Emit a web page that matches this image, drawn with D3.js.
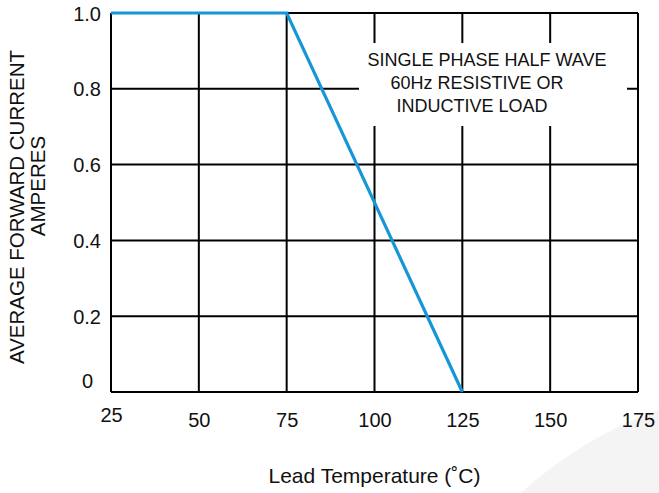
<!DOCTYPE html>
<html>
<head>
<meta charset="utf-8">
<script src="https://cdn.jsdelivr.net/npm/d3@7"></script>
<style>
  html, body { margin: 0; padding: 0; background: #fff; }
  svg { display: block; font-family: "Liberation Sans", Arial, sans-serif; }
</style>
</head>
<body>
<svg id="chart" width="659" height="493"></svg>
<script>
// ---- data ----
const temperature = [25, 75, 125];          // Lead temperature (°C)
const forwardCurrent = [1.0, 1.0, 0];       // Average forward current (A)
const xTickValues = [25, 50, 75, 100, 125, 150, 175];
const yTickValues = [0, 0.2, 0.4, 0.6, 0.8, 1.0];
const yTickLabels = ["0", "0.2", "0.4", "0.6", "0.8", "1.0"];
const annotationLines = ["SINGLE PHASE HALF WAVE", "60Hz RESISTIVE OR", "INDUCTIVE LOAD"];
const xTitle = "Lead Temperature (\u02DAC)";
const yTitleLines = ["AVERAGE FORWARD CURRENT", "AMPERES"];

// ---- layout ----
const plot = { left: 111, right: 638, top: 13, bottom: 392 };
const svg = d3.select("#chart");

// background watermark arc
svg.append("circle").attr("cx", 800).attr("cy", 800).attr("r", 415).attr("fill", "#f4f4f4");

const x = d3.scaleLinear().domain([25, 175]).range([plot.left, plot.right]);
const y = d3.scaleLinear().domain([0, 1]).range([plot.bottom, plot.top]);

// grid
const grid = svg.append("g").attr("stroke", "#000").attr("stroke-width", 2);
grid.selectAll("line.v").data(xTickValues).join("line")
  .attr("class", "v")
  .attr("x1", d => x(d)).attr("x2", d => x(d))
  .attr("y1", plot.top).attr("y2", plot.bottom);
grid.selectAll("line.h").data(yTickValues).join("line")
  .attr("class", "h")
  .attr("x1", plot.left).attr("x2", plot.right)
  .attr("y1", d => y(d)).attr("y2", d => y(d));

// annotation box (white, covering grid)
svg.append("rect").attr("x", 359).attr("y", 43).attr("width", 268).attr("height", 83).attr("fill", "#fff");
svg.append("g").selectAll("text").data(annotationLines).join("text")
  .attr("x", (d, i) => [487, 477, 472][i])
  .attr("y", (d, i) => 66 + i * 23)
  .attr("text-anchor", "middle")
  .attr("font-size", 18)
  .attr("fill", "#111")
  .text(d => d);

// curve
const pts = temperature.map((t, i) => [t, forwardCurrent[i]]);
svg.append("path")
  .datum(pts)
  .attr("fill", "none")
  .attr("stroke", "#1596d6")
  .attr("stroke-width", 3.2)
  .attr("stroke-linejoin", "miter")
  .attr("d", d3.line().x(d => x(d[0])).y(d => y(d[1])));

// axes (labels only)
const xAxis = svg.append("g")
  .attr("transform", `translate(0,${plot.bottom})`)
  .call(d3.axisBottom(x).tickValues(xTickValues).tickSize(0).tickPadding(0).tickFormat(d3.format("d")));
xAxis.select(".domain").remove();
xAxis.selectAll("text")
  .attr("font-size", 20).attr("font-family", "Liberation Sans, Arial, sans-serif").attr("fill", "#111")
  .attr("dy", null)
  .attr("y", d => d === 25 ? 30 : 35);

const yAxis = svg.append("g")
  .attr("transform", `translate(${plot.left},0)`)
  .call(d3.axisLeft(y).tickValues(yTickValues).tickSize(0).tickPadding(10)
    .tickFormat((d, i) => yTickLabels[i]));
yAxis.select(".domain").remove();
yAxis.selectAll("text")
  .attr("font-size", 20).attr("font-family", "Liberation Sans, Arial, sans-serif").attr("fill", "#111")
  .attr("x", d => d === 0 ? -18 : -10)
  .attr("dy", d => d === 0 ? "-0.25em" : "0.35em");

// axis titles
svg.append("text")
  .attr("x", (plot.left + plot.right) / 2).attr("y", 483)
  .attr("text-anchor", "middle").attr("font-size", 21).attr("fill", "#111")
  .text(xTitle);

svg.append("text")
  .attr("transform", "translate(24,207) rotate(-90)")
  .attr("text-anchor", "middle").attr("font-size", 20.5).attr("fill", "#111")
  .text(yTitleLines[0]);
svg.append("text")
  .attr("transform", "translate(45,186) rotate(-90)")
  .attr("text-anchor", "middle").attr("font-size", 20.5).attr("fill", "#111")
  .text(yTitleLines[1]);
</script>
</body>
</html>
